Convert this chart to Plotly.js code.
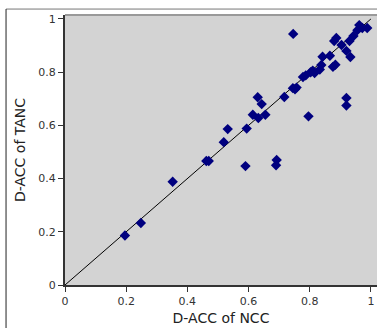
<!DOCTYPE html>
<html>
<head>
<meta charset="utf-8">
<script src="https://cdn.plot.ly/plotly-3.0.1.min.js"></script>
<style>html,body{margin:0;padding:0;background:#fff;}#chart{width:377px;height:328px;}</style>
</head>
<body>
<div id="chart"></div>
<script>
const nccAcc = [0.196,0.248,0.352,0.462,0.470,0.519,0.532,0.590,0.594,0.614,0.630,0.643,0.632,0.655,0.692,0.690,0.717,0.746,0.745,0.757,0.752,0.778,0.787,0.796,0.803,0.810,0.816,0.833,0.838,0.842,0.866,0.876,0.884,0.880,0.887,0.904,0.920,0.920,0.920,0.933,0.930,0.943,0.956,0.962,0.972,0.988];
const tancAcc = [0.186,0.233,0.388,0.466,0.466,0.537,0.586,0.447,0.588,0.640,0.706,0.680,0.628,0.640,0.470,0.450,0.707,0.944,0.740,0.742,0.736,0.782,0.788,0.634,0.800,0.806,0.797,0.810,0.827,0.858,0.862,0.820,0.828,0.917,0.929,0.902,0.703,0.675,0.880,0.857,0.917,0.936,0.958,0.977,0.966,0.966];
const diagX = [0, 1];
const diagY = [0, 1];
const xTitle = "D-ACC of NCC";
const yTitle = "D-ACC of TANC";

const traces = [
  {x: diagX, y: diagY, mode: "lines", line: {color: "#000", width: 1}, hoverinfo: "skip"},
  {x: nccAcc, y: tancAcc, mode: "markers", marker: {symbol: "diamond", size: 8, color: "#00007f"}}
];
const axisCommon = {
  showgrid: false, zeroline: false, showline: true, linecolor: "#333", linewidth: 2,
  ticks: "outside", ticklen: 5, tickcolor: "#333", tickwidth: 1, dtick: 0.2, tick0: 0,
  tickfont: {family: "DejaVu Sans", size: 11, color: "#333"}
};
const layout = {
  width: 377, height: 328,
  margin: {l: 65, r: 0, t: 15, b: 43},
  paper_bgcolor: "#fff", plot_bgcolor: "#d3d3d3",
  showlegend: false,
  font: {family: "DejaVu Sans"},
  xaxis: Object.assign({}, axisCommon, {range: [0, 1.02], title: {text: xTitle, font: {size: 14, color: "#222"}, standoff: 6}}),
  yaxis: Object.assign({}, axisCommon, {range: [0, 1.015], title: {text: yTitle, font: {size: 14, color: "#222"}, standoff: 9}}),
  shapes: [
    {type: "line", xref: "paper", yref: "paper", x0: 0, x1: 1.05, y0: 1, y1: 1, line: {color: "#999", width: 2}},
    {type: "line", xref: "paper", yref: "paper", x0: -0.189, x1: 1.05, y0: 1.022, y1: 1.022, line: {color: "#777", width: 1}},
    {type: "line", xref: "paper", yref: "paper", x0: -0.189, x1: -0.189, y0: 1.022, y1: -0.3, line: {color: "#222", width: 1}}
  ]
};
Plotly.newPlot("chart", traces, layout, {displayModeBar: false, staticPlot: true});
</script>
</body>
</html>
